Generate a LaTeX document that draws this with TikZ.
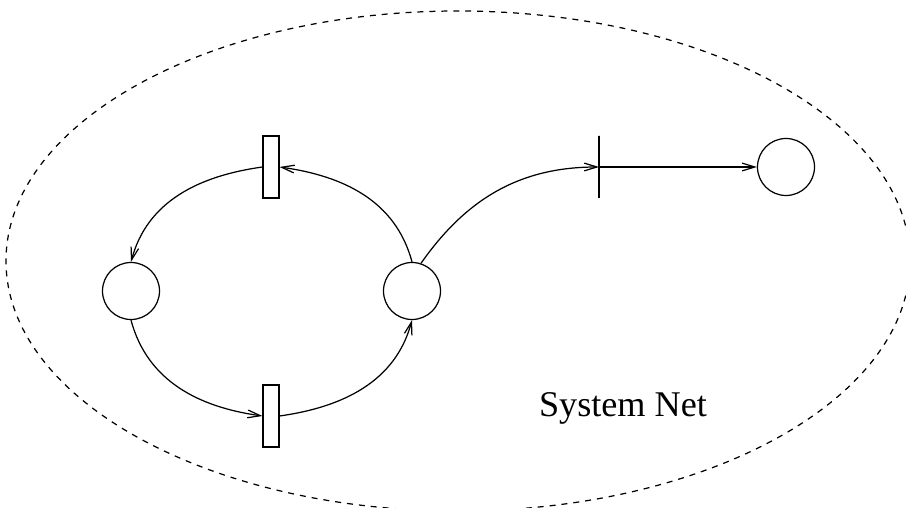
\documentclass[tikz,border=0pt]{standalone}
\usepackage{fontspec}
\setmainfont{Liberation Serif}
\usepackage{tikz}
\usetikzlibrary{arrows.meta}

\begin{document}
\begin{tikzpicture}[
  line width=.35pt,
  every node/.style={font=\fontsize{10.3pt}{12pt}\selectfont},
  place/.style={draw,circle,inner sep=0pt,minimum size=5.7mm},
  trans/.style={draw,rectangle,inner sep=0pt,minimum width=1.6mm,minimum height=6.2mm},
  bar/.style={draw,rectangle,inner sep=0pt,minimum width=0pt,minimum height=6.2mm},
  arr/.style={-{Straight Barb[length=3.6pt,width=2.2pt]}},
  frame/.style={dash pattern=on 1.7pt off 1.7pt}
]
\useasboundingbox (0,0) rectangle (9.06,5.08);
\draw[frame] (4.58,2.47) ellipse [x radius=4.52,y radius=2.50];
\node[place] (p1) at (1.31,2.17) {};
\node[place] (p2) at (4.12,2.17) {};
\node[place] (p3) at (7.86,3.41) {};
\node[trans] (t1) at (2.71,3.41) {};
\node[trans] (t2) at (2.71,0.92) {};
\node[bar] (t3) at (5.99,3.41) {};
\node[anchor=base] (lbl) at (6.23,0.91) {System Net};
\draw[arr] (p2.north) to[out=105,in=-8] (t1.east);
\draw[arr] (t1.west) to[out=188,in=75] (p1.north);
\draw[arr] (p1.south) to[out=-75,in=172] (t2.west);
\draw[arr] (t2.east) to[out=8,in=-105] (p2.south);
\draw[arr] (p2.72) to[out=55,in=180] (t3.center);
\draw[arr] (t3.center) -- (p3.west);
\end{tikzpicture}
\end{document}
